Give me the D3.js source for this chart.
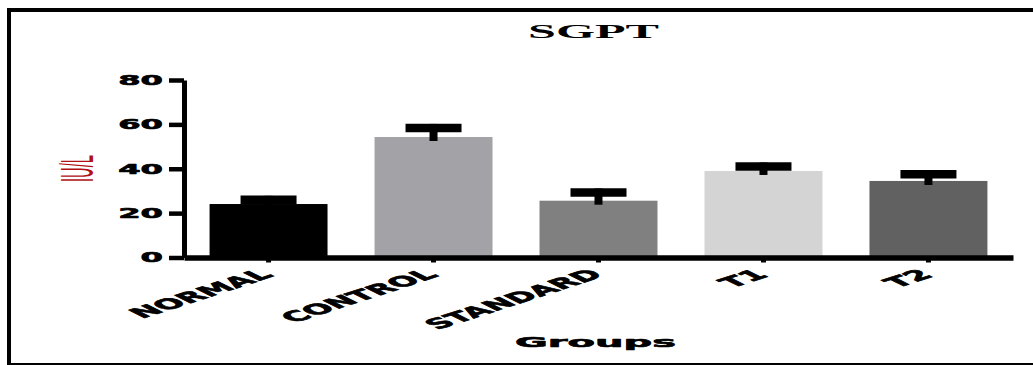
<!DOCTYPE html>
<html>
<head>
<meta charset="utf-8">
<script src="https://cdn.jsdelivr.net/npm/d3@7"></script>
<style>
  html, body { margin: 0; padding: 0; background: #fff; }
  svg { display: block; }
</style>
</head>
<body>
<svg id="chart" width="1033" height="365"></svg>
<script>
// SGPT levels per treatment group (mean with SEM), IU/L
const groups = ["NORMAL", "CONTROL", "STANDARD", "T1", "T2"];
const means = [24.1, 54.3, 25.6, 39.0, 34.5];
const sems = [1.9, 4.1, 3.7, 2.0, 3.0];
const yTicks = [0, 20, 40, 60, 80];
const barColors = ["#000000", "#a3a2a7", "#808080", "#d4d4d4", "#616161"];

const svg = d3.select("#chart");
const W = 1033, H = 365;

// outer frame
svg.append("rect")
  .attr("x", 9).attr("y", 10)
  .attr("width", W + 10).attr("height", 355)
  .attr("fill", "none").attr("stroke", "#000").attr("stroke-width", 4);

const x = d3.scaleBand()
  .domain(groups)
  .range([184, 1013])
  .paddingInner(0.285)
  .paddingOuter(0.155);

const y = d3.scaleLinear()
  .domain([0, 80])
  .range([257.5, 80]);

const boldSans = "'DejaVu Sans', sans-serif";

// heavy black lettering for axis text
function heavy(sel, size) {
  sel.attr("font-family", boldSans)
    .attr("font-weight", "bold")
    .attr("font-size", size)
    .attr("fill", "#000")
    .attr("stroke", "#000")
    .attr("stroke-width", 0.6)
    .attr("stroke-linejoin", "round");
}

// widen a text element horizontally so it spans the given width
function fitWidth(sel, cx, baseline, width) {
  const len = sel.node().getComputedTextLength();
  sel.attr("transform", `translate(${cx},${baseline}) scale(${width / len},1)`);
}

// bars
svg.append("g")
  .selectAll("rect")
  .data(groups)
  .join("rect")
  .attr("x", d => x(d))
  .attr("width", x.bandwidth())
  .attr("y", (d, i) => y(means[i]))
  .attr("height", (d, i) => y(0) - y(means[i]))
  .attr("fill", (d, i) => barColors[i]);

// error bars (upper SEM)
const eb = svg.append("g").attr("stroke", "#000");
groups.forEach((g, i) => {
  const cx = x(g) + x.bandwidth() / 2;
  eb.append("line")
    .attr("x1", cx).attr("x2", cx)
    .attr("y1", y(means[i])).attr("y2", y(means[i] + sems[i]))
    .attr("stroke-width", 8)
    .attr("stroke-linecap", "square");
  eb.append("line")
    .attr("x1", cx - 28).attr("x2", cx + 28)
    .attr("y1", y(means[i] + sems[i])).attr("y2", y(means[i] + sems[i]))
    .attr("stroke-width", 8.5);
});

// y axis
const yAxis = svg.append("g")
  .attr("transform", "translate(184,0)")
  .call(d3.axisLeft(y).tickValues(yTicks).tickSize(15).tickSizeOuter(0).tickPadding(6));
yAxis.select(".domain").attr("stroke-width", 5);
yAxis.selectAll(".tick line").attr("stroke-width", 4.5);
yAxis.selectAll(".tick text")
  .attr("x", null)
  .attr("transform", "translate(-21,0) scale(2.3,1)")
  .call(heavy, 14);

// x axis
const xAxis = svg.append("g")
  .attr("transform", "translate(0,257.5)")
  .call(d3.axisBottom(x).tickSize(5).tickSizeOuter(0).tickFormat(""));
xAxis.select(".domain").attr("stroke-width", 5.5);
xAxis.selectAll(".tick line").attr("stroke-width", 5);

// rotated group labels
svg.append("g")
  .selectAll("text")
  .data(groups)
  .join("text")
  .attr("transform", d => `translate(${x(d) + x.bandwidth() / 2 + 6},276) scale(2.5,1) rotate(-39)`)
  .attr("text-anchor", "end")
  .call(heavy, 14)
  .text(d => d);

// title
const title = svg.append("text")
  .attr("text-anchor", "middle")
  .attr("font-family", "'Liberation Serif', 'Times New Roman', serif")
  .attr("font-weight", "bold")
  .attr("font-size", 19.5)
  .attr("fill", "#000")
  .text("SGPT");
fitWidth(title, 593.5, 38, 131);

// x axis title
const xTitle = svg.append("text")
  .attr("text-anchor", "middle")
  .call(heavy, 14.5)
  .text("Groups");
fitWidth(xTitle, 595.5, 347, 161);

// y axis title
svg.append("text")
  .attr("transform", "translate(76,168.5) scale(3.2,1) rotate(-90)")
  .attr("text-anchor", "middle")
  .attr("dy", "0.36em")
  .attr("font-family", "'Liberation Sans', Arial, sans-serif")
  .attr("font-size", 14.7)
  .attr("fill", "#b01116")
  .text("IU/L");
</script>
</body>
</html>
